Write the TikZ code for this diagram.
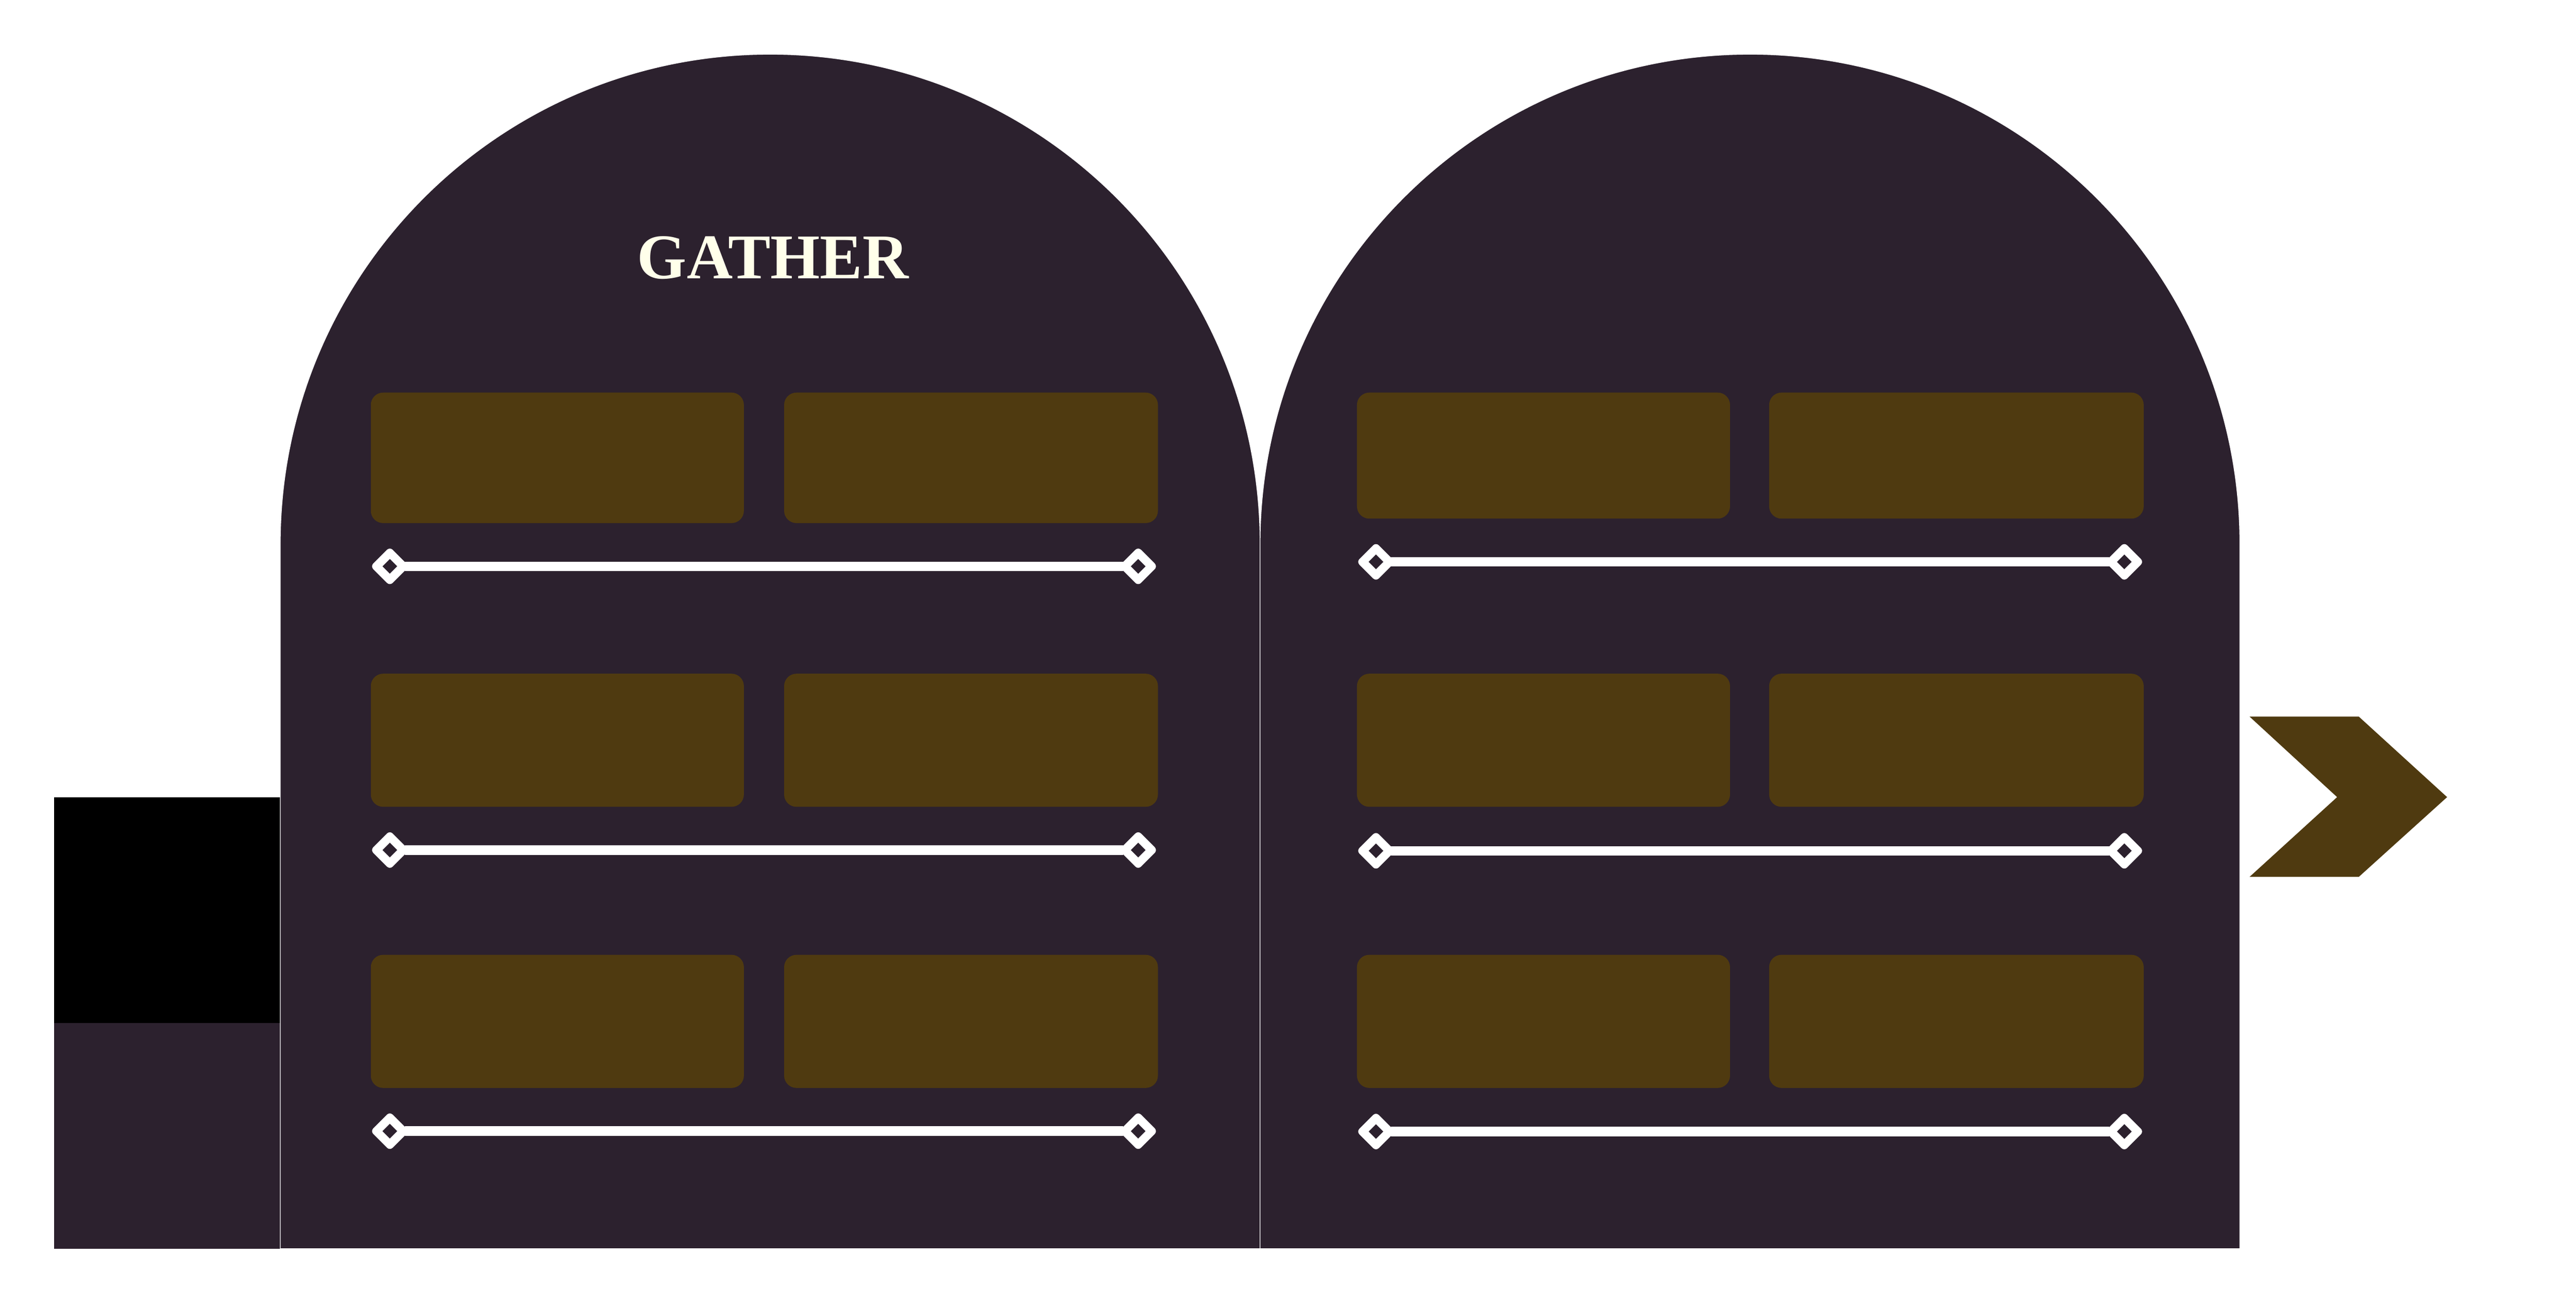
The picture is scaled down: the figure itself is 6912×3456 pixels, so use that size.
\documentclass[tikz,border=0pt]{standalone}
\usepackage{fontspec}
\setmainfont{Liberation Serif}
\definecolor{slate}{HTML}{2C212E}
\definecolor{gold}{HTML}{4F3A10}
\definecolor{cream}{HTML}{FFFFEA}
\begin{document}
\begin{tikzpicture}[x=0.01cm,y=0.01cm,
  stone/.style={fill=slate,draw=white,line width=0.5pt},
  panel/.style={fill=gold,rounded corners=9.4pt},
  rulebar/.style={draw=white,line width=7.3pt},
  gemmark/.pic={\fill[white,even odd rule] [rounded corners=3pt] (-52,0) -- (0,52) -- (52,0) -- (0,-52) -- cycle [sharp corners] (-20,0) -- (0,20) -- (20,0) -- (0,-20) -- cycle;}]
\fill[white] (0,0) rectangle (6912,-3456);
\useasboundingbox (0,0) rectangle (6912,-3456);
% left tab
\fill[black] (145,-2138) rectangle (752,-2744);
\fill[slate] (145,-2744) rectangle (752,-3349);
% tombstones
\path[stone] (752,-3349) -- (752,-1460) arc[start angle=180,end angle=0,radius=1314.5] -- (3381,-3349) -- cycle;
\path[stone] (3381,-3349) -- (3381,-1460) arc[start angle=180,end angle=0,radius=1314.5] -- (6010,-3349) -- cycle;
% title
\node[anchor=base,text=cream,font=\bfseries\fontsize{48.6pt}{50pt}\selectfont,inner sep=0pt] (title) at (2074,-747) {GATHER};
% left panels
\fill[panel] (995,-1053) rectangle (1996,-1403);
\fill[panel] (2104,-1053) rectangle (3107,-1403);
\fill[panel] (995,-1807) rectangle (1996,-2164);
\fill[panel] (2104,-1807) rectangle (3107,-2164);
\fill[panel] (995,-2561) rectangle (1996,-2918);
\fill[panel] (2104,-2561) rectangle (3107,-2918);
% right panels
\fill[panel] (3641,-1053) rectangle (4642,-1391);
\fill[panel] (4747,-1053) rectangle (5752,-1391);
\fill[panel] (3641,-1807) rectangle (4642,-2164);
\fill[panel] (4747,-1807) rectangle (5752,-2164);
\fill[panel] (3641,-2561) rectangle (4642,-2918);
\fill[panel] (4747,-2561) rectangle (5752,-2918);
% divider end points
\coordinate (la1) at (1046,-1519); \coordinate (lb1) at (3054,-1519);
\coordinate (la2) at (1046,-2280); \coordinate (lb2) at (3054,-2280);
\coordinate (la3) at (1046,-3034); \coordinate (lb3) at (3054,-3034);
\coordinate (ra1) at (3692,-1507); \coordinate (rb1) at (5700,-1507);
\coordinate (ra2) at (3692,-2282); \coordinate (rb2) at (5700,-2282);
\coordinate (ra3) at (3692,-3035); \coordinate (rb3) at (5700,-3035);
% divider bars
\foreach \a/\b in {la1/lb1,la2/lb2,la3/lb3,ra1/rb1,ra2/rb2,ra3/rb3}{
  \draw[rulebar] ([xshift=0.4cm]\a) -- ([xshift=-0.4cm]\b);
  \pic at (\a) {gemmark};
  \pic at (\b) {gemmark};
}
% chevron
\fill[gold] (6036,-1922) -- (6329,-1922) -- (6566,-2138) -- (6329,-2352) -- (6036,-2352) -- (6271,-2138) -- cycle;
\end{tikzpicture}
\end{document}
